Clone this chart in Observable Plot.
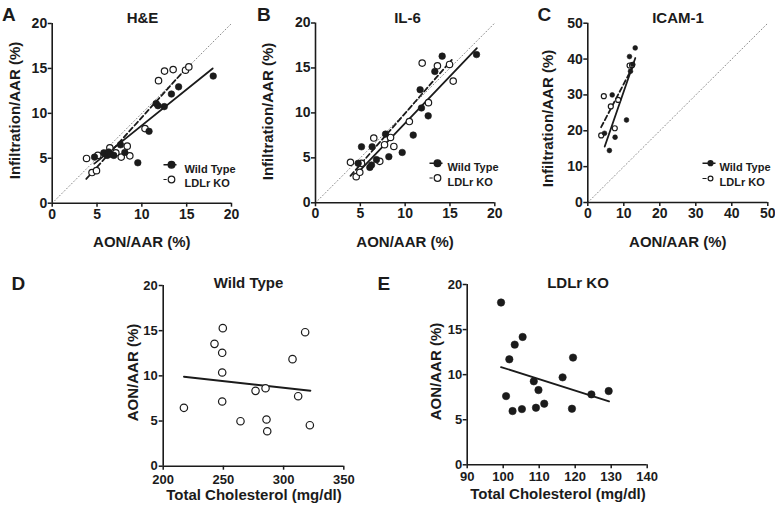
<!DOCTYPE html>
<html><head><meta charset="utf-8">
<script src="https://cdn.jsdelivr.net/npm/d3@7"></script>
<script src="https://cdn.jsdelivr.net/npm/@observablehq/plot@0.6"></script>
<style>
body{margin:0;background:#fff;}
#fig{position:relative;width:775px;height:508px;overflow:hidden;background:#fff;}
#fig svg{position:absolute;overflow:visible;}
</style></head><body><div id="fig"></div>
<script>
// ---------- DATA ----------
// Panel A: H&E  (x = AON/AAR %, y = Infiltration/AAR %)
const aWtX = [4.72, 5.76, 6.13, 6.31, 6.5, 6.87, 7.62, 8.1, 9.55, 10.8, 11.6, 11.8, 12.5, 13.3, 14.1, 17.96];
const aWtY = [5.13, 5.6, 5.32, 5.7, 5.45, 5.32, 6.5, 5.65, 4.5, 8.0, 11.1, 10.85, 10.75, 12.15, 12.95, 14.15];
const aKoX = [3.83, 4.44, 4.94, 5.09, 6.43, 7.1, 7.7, 8.37, 8.66, 10.35, 11.86, 12.53, 13.49, 14.87, 15.24];
const aKoY = [4.98, 3.41, 3.62, 5.32, 6.17, 5.6, 5.13, 6.35, 5.27, 8.3, 13.64, 14.7, 14.87, 14.8, 15.17];
const aFitWtX = [4.7, 17.9], aFitWtY = [4.4, 15.0];
const aFitKoX = [3.8, 15.2], aFitKoY = [2.7, 15.3];

// Panel B: IL-6
const bWtX = [4.76, 5.13, 6.06, 6.25, 6.32, 6.8, 7.81, 8.18, 9.67, 10.9, 11.82, 12.57, 11.67, 13.31, 14.13, 17.96];
const bWtY = [4.39, 6.23, 3.94, 4.2, 6.23, 4.8, 7.64, 5.13, 5.6, 7.53, 10.55, 9.67, 12.58, 14.61, 16.31, 16.49];
const bKoX = [3.9, 4.54, 4.94, 5.13, 6.5, 7.17, 7.7, 8.37, 8.74, 10.47, 12.6, 11.9, 13.6, 14.95, 15.36];
const bKoY = [4.5, 2.91, 3.39, 4.39, 7.2, 4.61, 6.46, 7.27, 6.27, 9.04, 11.14, 15.54, 15.24, 15.39, 13.54];
const bFitWtX = [4.3, 18.0], bFitWtY = [2.9, 17.2];
const bFitKoX = [3.9, 15.2], bFitKoY = [3.0, 15.9];

// Panel C: ICAM-1
const cWtX = [4.64, 6.0, 6.78, 7.58, 10.75, 11.58, 11.86, 12.5, 13.17];
const cWtY = [19.3, 14.5, 30.0, 18.2, 23.0, 40.7, 36.6, 38.5, 43.1];
const cKoX = [3.72, 4.45, 6.39, 7.5, 8.44, 11.6, 12.3];
const cKoY = [18.7, 29.65, 26.8, 20.7, 28.6, 38.2, 38.3];
const cFitWtX = [4.7, 13.2], cFitWtY = [15.6, 40.3];
const cFitKoX = [3.7, 12.4], cFitKoY = [21.0, 37.7];

// Panel D: Wild Type (x = total cholesterol mg/dl, y = AON/AAR %)
const dX = [217.2, 242.6, 249.5, 249, 249, 249, 264.2, 276.7, 285, 285.8, 286.4, 307.4, 317.9, 312.1, 321.8];
const dY = [6.46, 13.54, 15.28, 12.55, 10.37, 7.16, 4.98, 8.34, 8.63, 5.17, 3.87, 11.85, 14.83, 7.75, 4.54];
const dFitX = [217.2, 322.3], dFitY = [9.9, 8.35];

// Panel E: LDLr KO
const eX = [99.4, 103.2, 105.4, 101.7, 119.4, 116.5, 108.5, 109.8, 100.8, 124.5, 129.3, 102.6, 105.2, 109.1, 111.4, 119.1];
const eY = [18.0, 13.33, 14.18, 11.7, 11.89, 9.7, 9.26, 8.29, 7.62, 7.81, 8.18, 5.96, 6.18, 6.33, 6.78, 6.22];
const eFitX = [99.4, 129.4], eFitY = [10.84, 7.03];

// ticks / domains
const ticks0to20 = [0, 5, 10, 15, 20];
const ticks0to50 = [0, 10, 20, 30, 40, 50];
const ticksChol1 = [200, 250, 300, 350];
const ticksChol2 = [90, 100, 110, 120, 130, 140];
const identity20 = [0, 20];
const identity50 = [0, 50];

const seriesNames = ["Wild Type", "LDLr KO"];
const titles = ["H&E", "IL-6", "ICAM-1", "Wild Type", "LDLr KO"];
const letters = ["A", "B", "C", "D", "E"];
const labelAON = "AON/AAR (%)";
const labelInf = "Infiltration/AAR (%)";
const labelChol = "Total Cholesterol (mg/dl)";

// ---------- RENDERING ----------
const FONT = "'Liberation Sans', Arial, Helvetica, sans-serif";
const INK = "#1b1b1b";
const fig = document.getElementById("fig");

function legendSymbol(left, right, gap) {
  return {draw(ctx, size) {
    const r = Math.sqrt(size / Math.PI);
    ctx.moveTo(r, 0); ctx.arc(0, 0, r, 0, 2 * Math.PI);
    ctx.moveTo(-left, 0); ctx.lineTo(-r - gap, 0);
    if (right > r) { ctx.moveTo(r, 0); ctx.lineTo(right, 0); }
  }};
}

function panel(o) {
  const rel = (ax, ay) => ({frameAnchor: "top-left", dx: ax - o.x0, dy: ay - o.y0});
  const marks = [];
  if (o.identity) marks.push(Plot.line(o.identity, {x: d => d, y: d => d, stroke: "#8c8c8c", strokeWidth: 1, strokeDasharray: "1,2.4"}));
  for (const f of o.fits) {
    marks.push(Plot.line(f.x, {x: f.x, y: f.y, stroke: INK, strokeWidth: 1.8, strokeDasharray: f.dash || null}));
  }
  for (const s of o.series) {
    marks.push(Plot.dot(s.x, {x: s.x, y: s.y, r: s.r, fill: s.filled ? INK : "white", stroke: INK, strokeWidth: s.filled ? 0.6 : 1.2}));
  }
  marks.push(Plot.ruleX([o.xDomain[0]], {stroke: INK, strokeWidth: 1.6}));
  marks.push(Plot.ruleY([o.yDomain[0]], {stroke: INK, strokeWidth: 1.6}));
  marks.push(Plot.axisX({ticks: o.xTicks, tickSize: 4, tickPadding: o.xPad || 1.5, label: null, stroke: INK, strokeWidth: 1.5, fill: INK, fontSize: o.tickFont || 14}));
  marks.push(Plot.axisY({ticks: o.yTicks, tickSize: 4, tickPadding: o.yPad || 1, label: null, stroke: INK, strokeWidth: 1.5, fill: INK, fontSize: o.tickFont || 14}));
  // axis titles
  marks.push(Plot.text([o.xLabel[0]], {...rel(o.xLabel[1], o.xLabel[2]), text: d => d, textAnchor: "middle", lineAnchor: "bottom", fontSize: 15, fill: INK}));
  marks.push(Plot.text([o.yLabel[0]], {...rel(o.yLabel[1], o.yLabel[2]), text: d => d, rotate: -90, textAnchor: "middle", lineAnchor: "bottom", fontSize: 15, fill: INK}));
  // title & letter
  marks.push(Plot.text([o.title[0]], {...rel(o.title[1], o.title[2]), text: d => d, textAnchor: "middle", lineAnchor: "bottom", fontSize: 15, fill: INK}));
  marks.push(Plot.text([o.letter[0]], {...rel(o.letter[1], o.letter[2]), text: d => d, textAnchor: "start", lineAnchor: "bottom", fontSize: 19, fill: INK}));
  // legend
  if (o.legend) {
    const L = o.legend;
    marks.push(Plot.dot([seriesNames[0]], {...rel(L.dotX, L.y1), r: L.r, symbol: legendSymbol(8, 5, 0), fill: INK, stroke: INK, strokeWidth: 1.4}));
    marks.push(Plot.dot([seriesNames[1]], {...rel(L.dotX, L.y2), r: L.r, symbol: legendSymbol(8, 0, 1.5), fill: "white", stroke: INK, strokeWidth: 1.2}));
    marks.push(Plot.text([seriesNames[0]], {...rel(L.textX, L.y1), text: d => d, textAnchor: "start", fontSize: 11, fill: INK}));
    marks.push(Plot.text([seriesNames[1]], {...rel(L.textX, L.y2), text: d => d, textAnchor: "start", fontSize: 11, fill: INK}));
  }
  const svg = Plot.plot({
    width: o.width, height: o.height,
    marginLeft: o.x0 - o.left, marginRight: o.left + o.width - o.x1,
    marginTop: o.y0 - o.top, marginBottom: o.top + o.height - o.y1,
    x: {domain: o.xDomain}, y: {domain: o.yDomain},
    style: {fontFamily: FONT, fontSize: "14px", fontWeight: "bold", color: INK, background: "transparent", overflow: "visible"},
    marks
  });
  svg.style.left = o.left + "px";
  svg.style.top = o.top + "px";
  fig.append(svg);
}

// A
panel({left: 0, top: 0, width: 258, height: 255, x0: 51.7, x1: 231, y0: 23, y1: 202.7,
  xDomain: [0, 20], yDomain: [0, 20], xTicks: ticks0to20, yTicks: ticks0to20, identity: identity20,
  fits: [{x: aFitWtX, y: aFitWtY}, {x: aFitKoX, y: aFitKoY, dash: "5,3"}],
  series: [{x: aKoX, y: aKoY, r: 3.2, filled: false}, {x: aWtX, y: aWtY, r: 3.3, filled: true}],
  xLabel: [labelAON, 141.3, 246], yLabel: [labelInf, 19, 110], title: [titles[0], 142, 22.5], letter: [letters[0], 1.5, 20.5],
  legend: {dotX: 171, textX: 184, y1: 164.3, y2: 179, r: 3.3}});
// B
panel({left: 258, top: 0, width: 257, height: 255, x0: 315, x1: 494.3, y0: 22.5, y1: 202.3,
  xDomain: [0, 20], yDomain: [0, 20], xTicks: ticks0to20, yTicks: ticks0to20, identity: identity20,
  fits: [{x: bFitWtX, y: bFitWtY}, {x: bFitKoX, y: bFitKoY, dash: "5,3"}],
  series: [{x: bKoX, y: bKoY, r: 3.2, filled: false}, {x: bWtX, y: bWtY, r: 3.3, filled: true}],
  xLabel: [labelAON, 404.6, 246], yLabel: [labelInf, 272.5, 111], title: [titles[1], 407, 22.5], letter: [letters[1], 256.5, 20.5],
  legend: {dotX: 437, textX: 447, y1: 162.7, y2: 177.5, r: 3.3}});
// C
panel({left: 515, top: 0, width: 260, height: 255, x0: 587.3, x1: 767.3, y0: 22.7, y1: 202,
  xDomain: [0, 50], yDomain: [0, 50], xTicks: ticks0to50, yTicks: ticks0to50, identity: identity50,
  fits: [{x: cFitWtX, y: cFitWtY}, {x: cFitKoX, y: cFitKoY, dash: "5,3"}],
  series: [{x: cKoX, y: cKoY, r: 2.5, filled: false}, {x: cWtX, y: cWtY, r: 2.4, filled: true}],
  xLabel: [labelAON, 677.3, 246], yLabel: [labelInf, 552, 118], title: [titles[2], 677.5, 22.5], letter: [letters[2], 537, 20.5],
  legend: {dotX: 710, textX: 719, y1: 162.7, y2: 178, r: 2.4}});
// D
panel({left: 0, top: 255, width: 370, height: 253, x0: 162.7, x1: 343.3, y0: 285, y1: 465.7,
  xDomain: [200, 350], yDomain: [0, 20], xTicks: ticksChol1, yTicks: ticks0to20, identity: null,
  tickFont: 13, xPad: 4.5, yPad: 1.5,
  fits: [{x: dFitX, y: dFitY}],
  series: [{x: dX, y: dY, r: 3.7, filled: false}],
  xLabel: [labelChol, 253.5, 499], yLabel: [labelAON, 137, 372], title: [titles[3], 248, 287], letter: [letters[3], 11, 289],
  legend: null});
// E
panel({left: 370, top: 255, width: 405, height: 253, x0: 466.7, x1: 646.7, y0: 284, y1: 464.3,
  xDomain: [90, 140], yDomain: [0, 20], xTicks: ticksChol2, yTicks: ticks0to20, identity: null,
  tickFont: 13, xPad: 3,
  fits: [{x: eFitX, y: eFitY}],
  series: [{x: eX, y: eY, r: 3.7, filled: true}],
  xLabel: [labelChol, 557.5, 498.5], yLabel: [labelAON, 440.5, 371], title: [titles[4], 577.5, 287.5], letter: [letters[4], 377, 289],
  legend: null});
</script></body></html>
